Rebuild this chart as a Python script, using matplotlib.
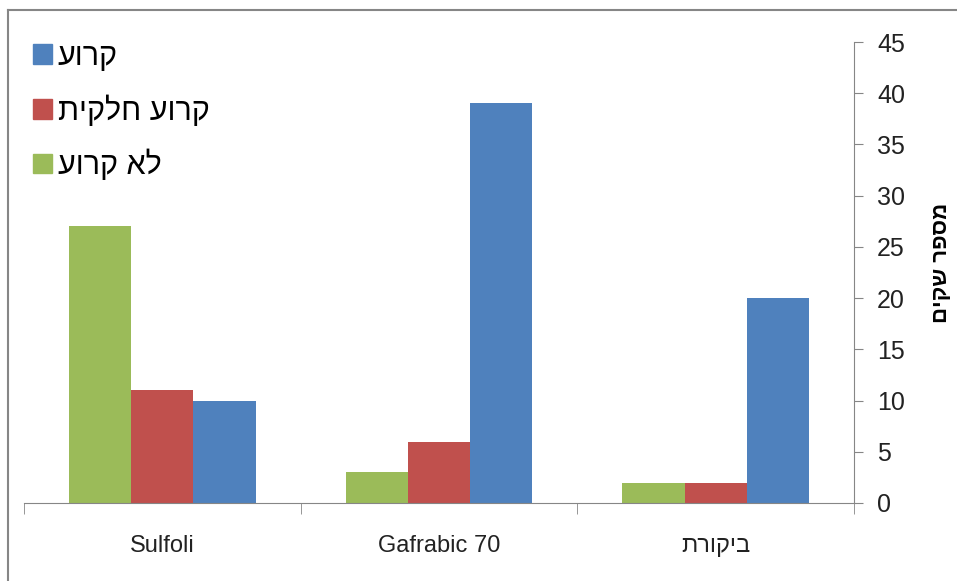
import matplotlib
matplotlib.use('Agg')
import matplotlib.pyplot as plt
import numpy as np
from matplotlib.patches import Patch
from matplotlib.lines import Line2D

plt.rcParams['font.family'] = ['Liberation Sans', 'DejaVu Sans']


def rtl(s):
    # matplotlib has no bidi, so hebrew is flipped by hand
    return s[::-1]


categories = ['Sulfoli', 'Gafrabic 70', rtl('ביקורת')]
series_names = ['לא קרוע', 'קרוע חלקית', 'קרוע']
not_torn = [27, 3, 2]
partly_torn = [11, 6, 2]
torn = [10, 39, 20]

colors = ['#9BBB59', '#C0504D', '#4F81BD']
ylabel = 'מספר שקים'

fig = plt.figure(figsize=(9.57, 5.81), dpi=100)
ax = fig.add_axes([24 / 957, 78 / 581, 830 / 957, 461 / 581])

x = np.arange(len(categories))
w = 0.225
for i, vals in enumerate([not_torn, partly_torn, torn]):
    ax.bar(x + (i - 1) * w, vals, w, color=colors[i], linewidth=0,
           label=rtl(series_names[i]))

ax.set_xlim(-0.5, 2.5)
ax.set_ylim(0, 45)
ax.set_yticks(range(0, 46, 5))

ax.yaxis.tick_right()
ax.yaxis.set_label_position('right')
for s in ['left', 'top']:
    ax.spines[s].set_visible(False)
ax.spines['right'].set_color('#868686')
ax.spines['bottom'].set_color('#868686')

ax.set_xticks(x)
ax.set_xticklabels(categories)
ax.set_xticks([-0.5, 0.5, 1.5, 2.5], minor=True)
ax.tick_params(axis='x', which='major', length=0, pad=23, labelsize=17,
               labelcolor='#222222')
ax.tick_params(axis='x', which='minor', length=8, color='#868686', direction='out')
ax.tick_params(axis='y', length=6.5, color='#868686', direction='out', pad=10,
               labelsize=18, labelcolor='#222222')

ax.set_ylabel(rtl(ylabel), fontsize=16, fontweight='bold', rotation=90)
ax.yaxis.set_label_coords(1.093, 0.52)

handles = [Patch(color=colors[i], label=rtl(series_names[i])) for i in [2, 1, 0]]
leg = ax.legend(handles=handles, loc='upper left', bbox_to_anchor=(0.0, 1.02),
                frameon=False, fontsize=22, labelspacing=0.76,
                handlelength=0.6, handleheight=0.6, handletextpad=0.2,
                borderaxespad=0, borderpad=0.3)

# outer chart border (only left and top edges show in the crop)
fig.add_artist(Line2D([8 / 957, 8 / 957], [0, 1 - 10 / 581], transform=fig.transFigure,
                      color='#868686', lw=1.5))
fig.add_artist(Line2D([8 / 957, 1], [1 - 10 / 581, 1 - 10 / 581], transform=fig.transFigure,
                      color='#868686', lw=1.5))

fig.savefig('out.png', dpi=100)
